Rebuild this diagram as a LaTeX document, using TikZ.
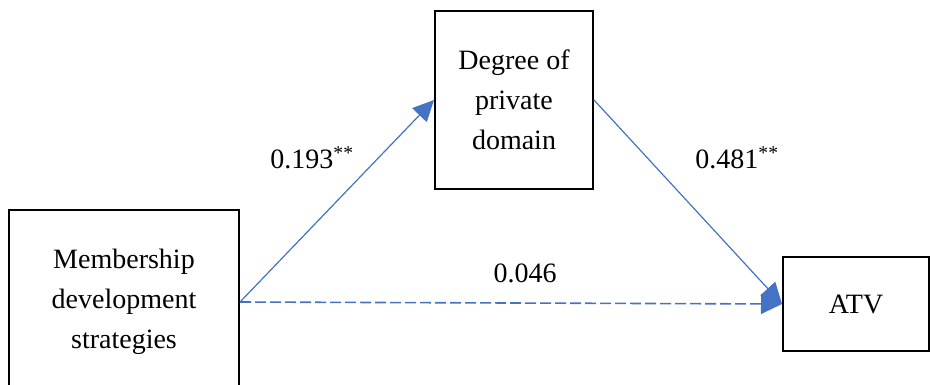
\documentclass[tikz,border=0pt]{standalone}
\usepackage{fontspec}
\setmainfont{Liberation Serif}
\usetikzlibrary{arrows.meta}
\definecolor{pathblue}{HTML}{4472C4}
\tikzset{
  varbox/.style={draw=black, line width=2pt, fill=white, align=center,
    inner sep=0pt, font=\fontsize{28}{40}\selectfont},
  path/.style={draw=pathblue, line width=1.2pt,
    -{Triangle[length=21pt,width=20pt]}, shorten >=0pt},
  coef/.style={font=\fontsize{28}{34}\selectfont, inner sep=0pt},
}
\newcommand{\sig}{\textsuperscript{**}}
\begin{document}
\begin{tikzpicture}[x=1pt,y=-1pt]
  \useasboundingbox (0,0) rectangle (931,385);
  \clip (0,0) rectangle (931,385);

  % variables
  \node[varbox, minimum width=230pt, minimum height=184pt] (L) at (124,302)
    {Membership\\development\\strategies};
  \node[varbox, minimum width=158pt, minimum height=178pt] (T) at (514,100)
    {Degree of\\private\\domain};
  \node[varbox, minimum width=146pt, minimum height=94pt] (A) at (856,304)
    {ATV};

  % paths
  \draw[path] (L.east) -- (T.west);
  \draw[path] (T.east) -- (A.west);
  \draw[path, line width=1.6pt, dash pattern=on 11pt off 4pt] (L.east) -- (A.west);

  % coefficients
  \node[coef] (c1) at (312,158) {0.193\sig};
  \node[coef] (c2) at (737,158) {0.481\sig};
  \node[coef] (c3) at (525,273) {0.046};
\end{tikzpicture}
\end{document}
